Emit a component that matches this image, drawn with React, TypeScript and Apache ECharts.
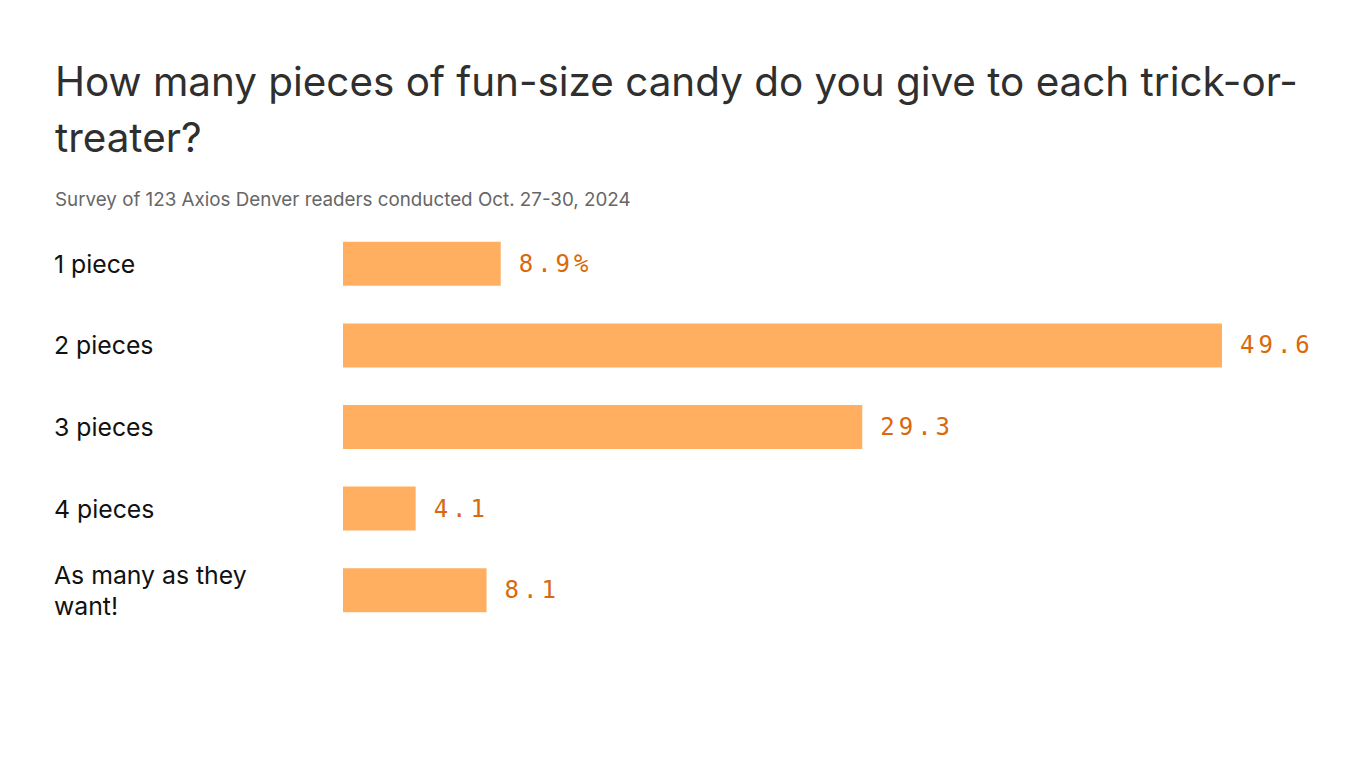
import React, { useEffect, useRef } from "react";
import * as echarts from "echarts";

const categories = ["1 piece", "2 pieces", "3 pieces", "4 pieces", "As many as they want!"];
const values = [8.9, 49.6, 29.3, 4.1, 8.1];
const titleText = "How many pieces of fun-size candy do you give to each trick-or-\ntreater?";
const subtitleText = "Survey of 123 Axios Denver readers conducted Oct. 27-30, 2024";

export default function App() {
  const ref = useRef<HTMLDivElement>(null);
  useEffect(() => {
    document.body.style.margin = "0";
    const chart = echarts.init(ref.current!, null, { renderer: "svg" });
    chart.setOption({
      animation: false,
      backgroundColor: "#ffffff",
      title: [
        {
          text: titleText,
          left: 50,
          top: 48,
          textStyle: {
            fontFamily: "Inter",
            fontSize: 40.4,
            fontWeight: 400,
            color: "#2f2f2f",
            lineHeight: 56,
          },
        },
        {
          text: subtitleText,
          left: 50,
          top: 185,
          textStyle: {
            fontFamily: "Inter",
            fontSize: 18.8,
            fontWeight: 400,
            color: "#666666",
          },
        },
      ],
      grid: { left: 343, top: 223, width: 879, height: 408, containLabel: false },
      xAxis: {
        type: "value",
        min: 0,
        max: 49.6,
        show: false,
      },
      yAxis: {
        type: "category",
        data: categories,
        inverse: true,
        axisLine: { show: false },
        axisTick: { show: false },
        axisLabel: {
          align: "left",
          margin: 289,
          width: 220,
          overflow: "break",
          fontFamily: "Inter",
          fontSize: 24.8,
          lineHeight: 31,
          color: "#111111",
        },
      },
      series: [
        {
          type: "bar",
          data: values,
          barWidth: 44,
          itemStyle: { color: "#ffaf5f" },
          label: {
            show: true,
            position: "right",
            distance: 18,
            fontFamily: "DejaVu Sans Mono",
            fontSize: 24,
            color: "#d9690c",
            formatter: (p: any) => (p.dataIndex === 0 ? p.value + "%" : String(p.value)),
          },
        },
      ],
    });
    return () => chart.dispose();
  }, []);
  return (
    <>
      <style>{`#chartbox text[style*="Mono"], #chartbox text[font-family*="Mono"] { letter-spacing: 4px; }`}</style>
      <div id="chartbox" ref={ref} style={{ width: 1366, height: 768 }} />
    </>
  );
}
